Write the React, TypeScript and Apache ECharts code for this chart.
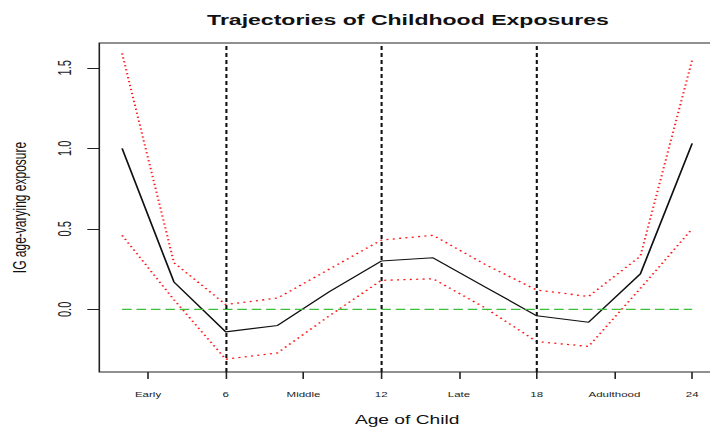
import React, { useEffect, useRef } from "react";
import * as echarts from "echarts";

// Data
const ages = [2, 4, 6, 8, 10, 12, 14, 16, 18, 20, 22, 24];
const estimate = [1.0, 0.17, -0.14, -0.1, 0.11, 0.3, 0.32, 0.14, -0.04, -0.08, 0.22, 1.03];
const upperCI = [1.59, 0.29, 0.03, 0.07, 0.25, 0.43, 0.46, 0.28, 0.12, 0.08, 0.33, 1.55];
const lowerCI = [0.46, 0.06, -0.31, -0.27, -0.04, 0.18, 0.19, 0.01, -0.2, -0.23, 0.13, 0.5];
const xTickValues = [3, 6, 9, 12, 15, 18, 21, 24];
const xTickLabels = ["Early", "6", "Middle", "12", "Late", "18", "Adulthood", "24"];
const yTickValues = [0, 0.5, 1, 1.5];
const periodBreaks = [6, 12, 18];
const zeroLine = [[2, 0], [24, 0]];

const STRETCH = 1.6;
const INNER_W = 450;
const FONT = "'Liberation Sans', Arial, Helvetica, sans-serif";

export default function App() {
  const ref = useRef<HTMLDivElement>(null);
  useEffect(() => {
    if (!ref.current) return;
    const chart = echarts.init(ref.current, null, { renderer: "svg" });
    const gridLeft = 99.3 / STRETCH;
    const gridRightEdge = 715 / STRETCH;
    chart.setOption({
      animation: false,
      backgroundColor: "#ffffff",
      title: {
        text: "Trajectories of Childhood Exposures",
        left: 250,
        textAlign: "center",
        top: 8,
        textStyle: { fontFamily: FONT, fontSize: 14.4, fontWeight: "bold", color: "#111" },
      },
      grid: {
        left: gridLeft,
        right: INNER_W - gridRightEdge,
        top: 43,
        bottom: 63,
        containLabel: false,
        outerBoundsMode: "none",
        show: true,
        borderColor: "#222",
        borderWidth: 1,
        backgroundColor: "transparent",
      },
      xAxis: {
        type: "value",
        min: 1.12,
        max: 24.88,
        axisLine: { show: false, onZero: false },
        splitLine: { show: false },
        axisTick: {
          show: true,
          customValues: xTickValues,
          length: 7,
          lineStyle: { color: "#222", width: 1 },
        },
        axisLabel: {
          customValues: xTickValues,
          formatter: (v: number) => {
            const i = xTickValues.indexOf(v);
            return i >= 0 ? xTickLabels[i] : "";
          },
          fontFamily: FONT,
          fontSize: 7.2,
          color: "#222",
          margin: 19,
        },
        name: "Age of Child",
        nameLocation: "middle",
        nameGap: 42,
        nameTextStyle: { fontFamily: FONT, fontSize: 12, color: "#111" },
      },
      yAxis: {
        type: "value",
        min: -0.389,
        max: 1.654,
        axisLine: { show: false, onZero: false },
        splitLine: { show: false },
        axisTick: {
          show: true,
          customValues: yTickValues,
          length: 7.5,
          lineStyle: { color: "#222", width: 1 },
        },
        axisLabel: {
          customValues: yTickValues,
          formatter: (v: number) => v.toFixed(1),
          rotate: 90,
          fontFamily: FONT,
          fontSize: 11,
          color: "#222",
          margin: 16,
        },
        name: "IG age-varying exposure",
        nameLocation: "middle",
        nameRotate: 90,
        nameGap: 44,
        nameTextStyle: { fontFamily: FONT, fontSize: 12, color: "#111" },
      },
      series: [
        {
          name: "upper",
          type: "line",
          data: ages.map((a, i) => [a, upperCI[i]]),
          symbol: "none",
          lineStyle: { color: "#ff1a1a", width: 1.3, type: [1.3, 2.7] },
          z: 2,
        },
        {
          name: "lower",
          type: "line",
          data: ages.map((a, i) => [a, lowerCI[i]]),
          symbol: "none",
          lineStyle: { color: "#ff1a1a", width: 1.3, type: [1.3, 2.7] },
          z: 2,
        },
        {
          name: "estimate",
          type: "line",
          data: ages.map((a, i) => [a, estimate[i]]),
          symbol: "none",
          lineStyle: { color: "#111", width: 1.1, type: "solid" },
          z: 3,
        },
        {
          name: "zero",
          type: "line",
          data: zeroLine,
          symbol: "none",
          lineStyle: { color: "#3cc03c", width: 1.2, type: [6, 3] },
          z: 4,
          markLine: {
            silent: true,
            symbol: "none",
            label: { show: false },
            lineStyle: { color: "#111", width: 1.3, type: [4, 3] },
            data: periodBreaks.map((b) => ({ xAxis: b })),
          },
        },
      ],
    });
    return () => chart.dispose();
  }, []);

  return (
    <div
      style={{
        position: "fixed",
        left: 0,
        top: 0,
        width: 710,
        height: 435,
        overflow: "hidden",
        background: "#fff",
      }}
    >
      <div
        ref={ref}
        style={{
          width: INNER_W,
          height: 435,
          transform: `scaleX(${STRETCH})`,
          transformOrigin: "0 0",
        }}
      />
    </div>
  );
}
